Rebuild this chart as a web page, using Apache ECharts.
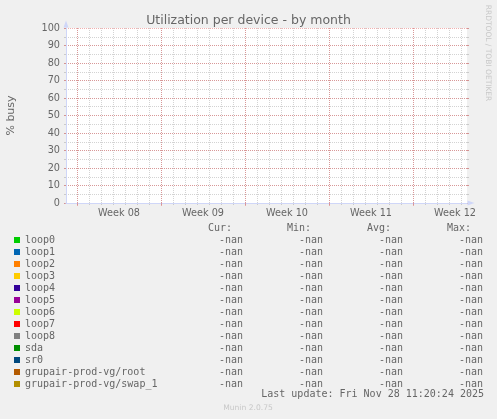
<!DOCTYPE html>
<html><head><meta charset="utf-8">
<script src="https://cdn.jsdelivr.net/npm/echarts@6/dist/echarts.min.js"></script>
<style>html,body{margin:0;padding:0;background:#F0F0F0}#c{width:497px;height:419px}</style>
</head><body><div id="c"></div>
<script>
// ---- data ----
const seriesNames = ['loop0','loop1','loop2','loop3','loop4','loop5','loop6','loop7','loop8','sda','sr0','grupair-prod-vg/root','grupair-prod-vg/swap_1'];
const seriesColors = ['#00CC00','#0066B3','#FF8000','#FFCC00','#330099','#990099','#CCFF00','#FF0000','#808080','#008F00','#00487D','#B35A00','#B38F00'];
const curValues = ['-nan','-nan','-nan','-nan','-nan','-nan','-nan','-nan','-nan','-nan','-nan','-nan','-nan'];
const minValues = ['-nan','-nan','-nan','-nan','-nan','-nan','-nan','-nan','-nan','-nan','-nan','-nan','-nan'];
const avgValues = ['-nan','-nan','-nan','-nan','-nan','-nan','-nan','-nan','-nan','-nan','-nan','-nan','-nan'];
const maxValues = ['-nan','-nan','-nan','-nan','-nan','-nan','-nan','-nan','-nan','-nan','-nan','-nan','-nan'];
const weekLabels = ['Week 08','Week 09','Week 10','Week 11','Week 12'];
const yTicks = [0,10,20,30,40,50,60,70,80,90,100];
const lastUpdate = 'Last update: Fri Nov 28 11:20:24 2025';
// time axis: 2-hour slots (Munin monthly resolution)
const slotStart = Date.UTC(2025,1,16,2,0,0);
const slotMs = 2*3600*1000;
const slotCount = 402;
const timeSlots = Array.from({length: slotCount}, (_, i) => slotStart + i*slotMs);
const firstWeekStart = Date.UTC(2025,1,17,0,0,0); // Monday, ISO week 08
const DAY = 86400000, WEEK = 7*DAY;

function rel(i){ return timeSlots[i] - firstWeekStart; }
function isDay(i){ const r = rel(i); return r >= 0 && r % DAY === 0; }
function isWeek(i){ const r = rel(i); return r >= 0 && r % WEEK === 0; }
function isWeekMid(i){ const r = rel(i) - 3.5*DAY; return r >= 0 && r % WEEK === 0; }

const AXIS = '#CFD6F8';
const MINOR = 'rgba(150,150,150,0.42)';
const MAJOR = 'rgba(222,79,79,0.45)';
const FONT = '#666666';

const chart = echarts.init(document.getElementById('c'), null, {renderer:'canvas'});
const monoRich = (w, al) => ({width:w, align:al, fontFamily:'DejaVu Sans Mono', fontSize:10, color:FONT, lineHeight:12});

chart.setOption({
  backgroundColor:'#F0F0F0',
  animation:false,
  title:{text:'Utilization per device - by month', left:'center', top:9,
    textStyle:{fontFamily:'DejaVu Sans', fontSize:12.5, fontWeight:'normal', color:FONT}},
  grid:{left:66, right:30, top:28, height:175, backgroundColor:'#FFFFFF', show:true, borderWidth:0},
  xAxis:[
    {type:'category', data:timeSlots, boundaryGap:false, position:'bottom', z:1,
      axisLine:{show:false},
      axisTick:{show:true, interval:(i)=>isDay(i), length:2, lineStyle:{color:MINOR}},
      axisLabel:{show:true, interval:(i)=>isWeekMid(i), margin:5, fontFamily:'DejaVu Sans', fontSize:9.7, color:FONT,
        formatter:(v,i)=>weekLabels[Math.floor(rel(i)/WEEK)]},
      splitLine:{show:true, interval:(i)=>isDay(i), lineStyle:{color:MINOR, type:[1,1], width:1}}},
    {type:'category', data:timeSlots, boundaryGap:false, position:'bottom', z:3,
      axisLine:{show:true, lineStyle:{color:AXIS, width:1}, symbol:['none','triangle'], symbolSize:[5,7], symbolOffset:[0,4]},
      axisTick:{show:true, interval:(i)=>isWeek(i), length:3, lineStyle:{color:MAJOR}},
      axisLabel:{show:false},
      splitLine:{show:true, interval:(i)=>isWeek(i), lineStyle:{color:MAJOR, type:[1,1], width:1}}}
  ],
  yAxis:[
    {type:'value', min:0, max:100, interval:10, position:'left', z:2,
      axisLine:{show:true, lineStyle:{color:AXIS, width:1}, symbol:['none','triangle'], symbolSize:[5,7], symbolOffset:[0,4]},
      axisTick:{show:true, length:2, lineStyle:{color:MAJOR}},
      axisLabel:{margin:6, fontFamily:'DejaVu Sans', fontSize:9.7, color:FONT,
        formatter:(v)=> yTicks.indexOf(v) >= 0 ? String(v) : ''},
      splitLine:{show:true, showMinLine:false, lineStyle:{color:MAJOR, type:[1,1], width:1}}},
    {type:'value', min:0, max:100, interval:5, position:'left', z:1,
      axisLine:{show:false}, axisLabel:{show:false},
      axisTick:{show:true, length:2, lineStyle:{color:MINOR}},
      splitLine:{show:true, showMinLine:false, showMaxLine:false, lineStyle:{color:MINOR, type:[1,1], width:1}}},
    {type:'value', min:0, max:100, interval:10, position:'right', z:2,
      axisLine:{show:false}, axisLabel:{show:false}, splitLine:{show:false},
      axisTick:{show:true, length:2, lineStyle:{color:MAJOR}}},
    {type:'value', min:0, max:100, interval:5, position:'right', z:1,
      axisLine:{show:false}, axisLabel:{show:false}, splitLine:{show:false},
      axisTick:{show:true, length:2, lineStyle:{color:MINOR}}}
  ],
  legend:{orient:'vertical', left:14, top:234, padding:0, itemWidth:6, itemHeight:6, itemGap:0,
    icon:'rect', selectedMode:false, data:seriesNames,
    formatter:(name)=>{ const i = seriesNames.indexOf(name);
      return '{n|'+name+'}{c|'+curValues[i]+'}{m|'+minValues[i]+'}{a|'+avgValues[i]+'}{x|'+maxValues[i]+'}'; },
    textStyle:{fontFamily:'DejaVu Sans Mono', fontSize:10, color:FONT, lineHeight:12,
      rich:{n:monoRich(171,'left'), c:monoRich(47,'right'), m:monoRich(80,'right'), a:monoRich(80,'right'), x:monoRich(80,'right')}}},
  graphic:[
    {type:'text', x:11, y:115.5, rotation:Math.PI/2,
      style:{text:'% busy', fill:FONT, fontFamily:'DejaVu Sans', fontSize:11, align:'center', verticalAlign:'middle', textAlign:'center', textVerticalAlign:'middle'}},
    {type:'text', x:488, y:53, rotation:-Math.PI/2,
      style:{text:'RRDTOOL / TOBI OETIKER', fill:'#C8C8C8', fontFamily:'DejaVu Sans', fontSize:7.5, align:'center', verticalAlign:'middle', textAlign:'center', textVerticalAlign:'middle'}},
    {type:'text', x:208, y:228, style:{text:'Cur:', fill:FONT, fontFamily:'DejaVu Sans Mono', fontSize:10, verticalAlign:'middle', textVerticalAlign:'middle'}},
    {type:'text', x:287, y:228, style:{text:'Min:', fill:FONT, fontFamily:'DejaVu Sans Mono', fontSize:10, verticalAlign:'middle', textVerticalAlign:'middle'}},
    {type:'text', x:367, y:228, style:{text:'Avg:', fill:FONT, fontFamily:'DejaVu Sans Mono', fontSize:10, verticalAlign:'middle', textVerticalAlign:'middle'}},
    {type:'text', x:447, y:228, style:{text:'Max:', fill:FONT, fontFamily:'DejaVu Sans Mono', fontSize:10, verticalAlign:'middle', textVerticalAlign:'middle'}},
    {type:'text', x:484, y:394, style:{text:lastUpdate, fill:FONT, fontFamily:'DejaVu Sans Mono', fontSize:10, align:'right', verticalAlign:'middle', textAlign:'right', textVerticalAlign:'middle'}},
    {type:'text', x:248, y:408, style:{text:'Munin 2.0.75', fill:'#C8C8C8', fontFamily:'DejaVu Sans', fontSize:7.6, align:'center', verticalAlign:'middle', textAlign:'center', textVerticalAlign:'middle'}}
  ],
  series: seriesNames.map((name, i) => ({
    name: name, type:'line', xAxisIndex:0, yAxisIndex:0, data: [],
    color: seriesColors[i], itemStyle:{color:seriesColors[i]}, lineStyle:{color:seriesColors[i]}, showSymbol:false
  }))
});
</script></body></html>
